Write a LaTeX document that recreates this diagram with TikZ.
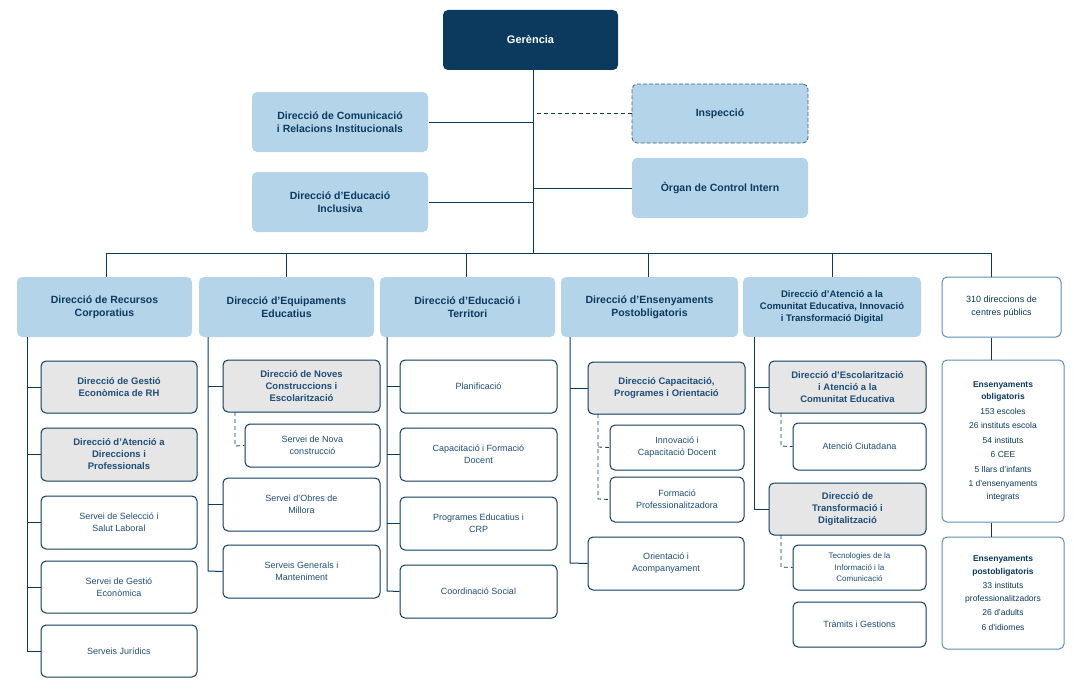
\documentclass[tikz,border=0pt]{standalone}
\usepackage{fontspec}
\setmainfont{Liberation Sans}
\begin{document}
\definecolor{navy}{HTML}{0C3A5E}
\definecolor{lblue}{HTML}{B4D4EA}
\definecolor{tblue}{HTML}{1F4E79}
\definecolor{gfill}{HTML}{E6E6E6}
\definecolor{bbord}{HTML}{5B8DB8}
\begin{tikzpicture}[x=1pt,y=-1pt,
 line width=1pt,
 bx/.style={rounded corners=5pt,inner sep=0pt,align=center},
 top/.style={bx,fill=lblue,draw=none,text=navy,font=\fontsize{10.5}{13}\selectfont\bfseries},
 gr/.style={bx,fill=gfill,draw=navy,text=tblue,font=\fontsize{9.5}{12}\selectfont\bfseries},
 wh/.style={bx,fill=white,draw=navy,text=tblue,font=\fontsize{9}{12}\selectfont},
 bl/.style={bx,fill=white,draw=bbord,text=navy,font=\fontsize{8.5}{12.5}\selectfont},
 ln/.style={draw=navy,line width=1pt},
 dl/.style={draw=navy,line width=0.8pt,dash pattern=on 4pt off 3pt}]
\useasboundingbox (0,0) rectangle (1087,693);
\newcommand\bxx[6]{\node[#1,minimum width={#4-#3},minimum height={#6-#5}] (#2) at ({(#3+#4)/2},{(#5+#6)/2})}
% top
\bxx{bx}{ger}{443}{618}{10}{70}[fill=navy,text=white,font=\fontsize{11}{13}\selectfont\bfseries]{Gerència};
\bxx{top}{com}{252}{428}{92}{152}{Direcció de Comunicació\\i Relacions Institucionals};
\bxx{top,draw=navy!80,dash pattern=on 4pt off 2pt,line width=0.8pt}{ins}{632}{808}{84}{143}{Inspecció};
\bxx{top}{inc}{252}{428}{172}{232}{Direcció d’Educació\\Inclusiva};
\bxx{top}{org}{632}{808}{158}{218}{Òrgan de Control Intern};
\coordinate (tb) at (533,253);
\draw[ln] (ger.south -| tb) -- (tb);
\draw[ln] (com.east) -- (com.east -| tb);
\draw[ln] (inc.east) -- (inc.east -| tb);
\draw[ln] (org.west) -- (org.west -| tb);
\draw[dl] (ins.west) -- (ins.west -| tb);
% row
\bxx{top}{c1}{17}{192}{277}{337}{Direcció de Recursos\\Corporatius};
\bxx{top}{c2}{199}{374}{277}{337}{Direcció d’Equipaments\\Educatius};
\bxx{top}{c3}{380}{555}{277}{337}{Direcció d’Educació i\\Territori};
\bxx{top}{c4}{561}{738}{277}{337}{Direcció d’Ensenyaments\\Postobligatoris};
\bxx{top,font=\fontsize{9.5}{12}\selectfont\bfseries}{c5}{743}{921}{277}{337}{Direcció d’Atenció a la\\Comunitat Educativa, Innovació\\i Transformació Digital};
\bxx{bl,text=navy,font=\fontsize{9}{13}\selectfont}{c6}{942}{1061}{277}{337}{310 direccions de\\centres públics};
\draw[ln] (106,253) -- (991,253);
\foreach \n/\x in {c1/106,c2/286,c3/466,c4/648,c5/832,c6/991} \draw[ln] (\x,253) -- (\x,277);
% col1
\bxx{gr}{a1}{41}{197}{361}{413}{Direcció de Gestió\\Econòmica de RH};
\bxx{gr}{a2}{41}{197}{428}{481}{Direcció d’Atenció a\\Direccions i\\Professionals};
\bxx{wh}{a3}{41}{197}{496}{549}{Servei de Selecció i\\Salut Laboral};
\bxx{wh}{a4}{41}{197}{561}{613}{Servei de Gestió\\Econòmica};
\bxx{wh}{a5}{41}{197}{625}{677}{Serveis Jurídics};
\draw[ln] (27,337) -- (27,651) -- (a5.west);
\foreach \n in {a1,a2,a3,a4} \draw[ln] (\n.west) -- (\n.west -| 27,0);
% col2
\bxx{gr}{b1}{223}{380}{360}{412}{Direcció de Noves\\Construccions i\\Escolarització};
\bxx{wh}{b2}{245}{380}{424}{467}{Servei de Nova\\construcció};
\bxx{wh}{b3}{223}{380}{478}{531}{Servei d’Obres de\\Millora};
\bxx{wh}{b4}{223}{380}{545}{598}{Serveis Generals i\\Manteniment};
\draw[ln] (208,337) -- (208,571) -- (b4.west);
\foreach \n in {b1,b3} \draw[ln] (\n.west) -- (\n.west -| 208,0);
\draw[dl] (235,412) -- (235,446) -- (b2.west);
% col3
\bxx{wh}{d1}{400}{557}{360}{413}{Planificació};
\bxx{wh}{d2}{400}{557}{428}{481}{Capacitació i Formació\\Docent};
\bxx{wh}{d3}{400}{557}{497}{550}{Programes Educatius i\\CRP};
\bxx{wh}{d4}{400}{557}{565}{618}{Coordinació Social};
\draw[ln] (387,337) -- (387,591) -- (d4.west);
\foreach \n in {d1,d2,d3} \draw[ln] (\n.west) -- (\n.west -| 387,0);
% col4
\bxx{gr}{e1}{588}{745}{362}{414}{Direcció Capacitació,\\Programes i Orientació};
\bxx{wh}{e2}{610}{744}{425}{470}{Innovació i\\Capacitació Docent};
\bxx{wh}{e3}{610}{744}{477}{522}{Formació\\Professionalitzadora};
\bxx{wh}{e4}{588}{744}{537}{590}{Orientació i\\Acompanyament};
\draw[ln] (570,337) -- (570,563) -- (e4.west);
\draw[ln] (e1.west) -- (e1.west -| 570,0);
\draw[dl] (598,414) -- (598,499) -- (e3.west);
\draw[dl] (598,447) -- (e2.west);
% col5
\bxx{gr}{f1}{769}{926}{361}{413}{Direcció d’Escolarització\\i Atenció a la\\Comunitat Educativa};
\bxx{wh}{f2}{793}{926}{423}{470}{Atenció Ciutadana};
\bxx{gr}{f3}{769}{926}{483}{535}{Direcció de\\Transformació i\\Digitalització};
\bxx{wh,font=\fontsize{8}{11.5}\selectfont}{f4}{793}{926}{545}{590}{Tecnologies de la\\Informació i la\\Comunicació};
\bxx{wh}{f5}{793}{926}{602}{647}{Tràmits i Gestions};
\draw[ln] (754,337) -- (754,509) -- (f3.west);
\draw[ln] (f1.west) -- (f1.west -| 754,0);
\draw[dl] (781,413) -- (781,446) -- (f2.west);
\draw[dl] (781,535) -- (781,567) -- (f4.west);
% col6
\bxx{bl}{g1}{942}{1064}{360}{522}{\textbf{Ensenyaments}\\\textbf{obligatoris}\\[2pt]153 escoles\\[2pt]26 instituts escola\\[2pt]54 instituts\\[2pt]6 CEE\\[2pt]5 llars d’infants\\[2pt]1 d’ensenyaments\\integrats};
\bxx{bl}{g2}{942}{1064}{537}{649}{\textbf{Ensenyaments}\\\textbf{postobligatoris}\\[2pt]33 instituts\\professionalitzadors\\[2pt]26 d’adults\\[2pt]6 d’idiomes};
\draw[ln] (c6.south -| 991,0) -- (g1.north -| 991,0);
\draw[ln] (g1.south -| 991,0) -- (g2.north -| 991,0);
\end{tikzpicture}
\end{document}
